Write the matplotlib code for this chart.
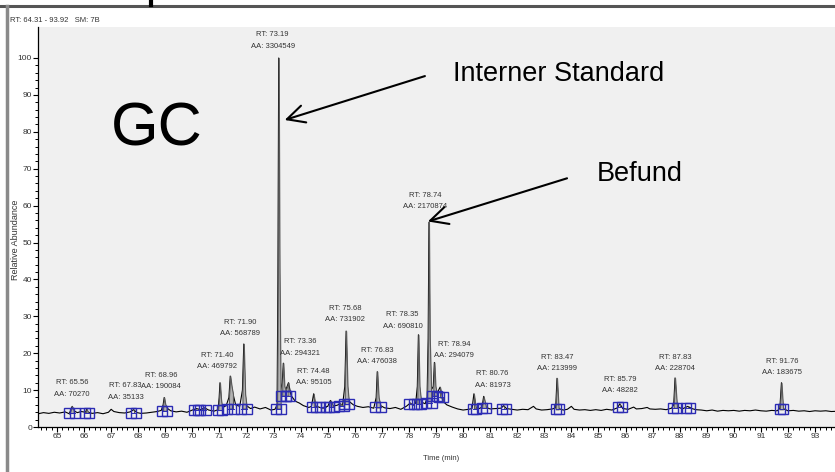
import matplotlib
matplotlib.use('Agg')
import matplotlib.pyplot as plt
from matplotlib.lines import Line2D
import numpy as np

# Chromatogramm (Zeit in min, relative Abundanz)
rt_min = [64.31, 64.5, 64.7, 64.9, 65.1, 65.3, 65.45, 65.52, 65.56, 65.62, 65.75, 65.9,
          66.05, 66.1, 66.15, 66.3, 66.5, 66.7, 66.9, 67.0, 67.1, 67.3, 67.5, 67.7,
          67.83, 67.95, 68.1, 68.3, 68.5, 68.7, 68.85, 68.92, 68.96, 69.0, 69.05, 69.2, 69.4, 69.6,
          69.8, 70.0, 70.15, 70.3, 70.45, 70.6, 70.8, 70.95, 70.99, 71.02, 71.06, 71.1, 71.25,
          71.35, 71.4, 71.45, 71.5, 71.6, 71.75, 71.85, 71.9, 71.95, 72.0, 72.15, 72.3, 72.5,
          72.7, 72.9, 73.05, 73.13, 73.16, 73.19, 73.22, 73.26, 73.32, 73.36, 73.4, 73.45,
          73.55, 73.65, 73.8, 73.95, 74.1, 74.3, 74.4, 74.48, 74.55, 74.75, 74.9, 75.0,
          75.1, 75.2, 75.35, 75.45, 75.55, 75.63, 75.68, 75.73, 75.78, 75.95,
          76.1, 76.3, 76.5, 76.7, 76.79, 76.83, 76.88, 76.95, 77.1, 77.3, 77.5, 77.7, 77.9, 78.05,
          78.15, 78.25, 78.31, 78.35, 78.39, 78.45, 78.6, 78.67, 78.71, 78.74, 78.77, 78.82,
          78.9, 78.94, 78.98, 79.03, 79.15, 79.25,
          79.4, 79.6, 79.8, 80.0, 80.2, 80.33, 80.4, 80.47, 80.6, 80.7, 80.76, 80.85,
          81.0, 81.2, 81.4, 81.5, 81.6, 81.8, 82.0, 82.2, 82.4, 82.6, 82.7, 82.9,
          83.1, 83.3, 83.42, 83.47, 83.53, 83.7, 83.85, 84.0, 84.1, 84.3, 84.5, 84.7,
          84.9, 85.1, 85.3, 85.5, 85.7, 85.79, 85.9, 86.1, 86.3, 86.4, 86.6, 86.8,
          86.9, 87.1, 87.3, 87.5, 87.7, 87.78, 87.83, 87.9, 88.1, 88.3, 88.45, 88.6,
          88.8, 89.0, 89.2, 89.4, 89.6, 89.8, 90.0, 90.2, 90.4, 90.6, 90.8, 91.0,
          91.2, 91.4, 91.6, 91.7, 91.76, 91.82, 92.0, 92.2, 92.4, 92.6, 92.8, 93.0,
          93.2, 93.4, 93.6, 93.92]
abundance = [3.6, 3.9, 3.7, 4.0, 3.8, 4.1, 3.6, 4.8, 5.6, 4.4, 3.9, 4.2,
             4.0, 4.8, 4.0, 3.7, 3.9, 3.6, 4.0, 4.8, 4.2, 3.9, 3.8, 4.1,
             4.7, 3.9, 3.7, 3.8, 4.0, 4.2, 4.5, 6.0, 8.0, 6.2, 5.2, 4.4, 4.1, 4.3,
             4.0, 4.6, 5.0, 4.7, 5.2, 4.6, 4.3, 4.7, 8.0, 12.0, 7.5, 5.2, 5.8,
             8.0, 13.8, 11.0, 9.0, 6.0, 5.6, 10.0, 22.5, 9.0, 5.8, 5.0, 5.4, 4.9,
             5.3, 4.6, 4.8, 6.0, 40.0, 100.0, 42.0, 10.0, 12.0, 17.3, 11.0, 10.0,
             12.0, 8.5, 7.0, 6.5, 5.8, 5.3, 5.6, 9.0, 5.7, 5.2, 5.4, 5.6,
             7.2, 5.7, 5.9, 6.3, 6.0, 11.0, 26.0, 11.0, 7.0, 6.0,
             5.6, 5.3, 5.5, 5.1, 8.0, 15.0, 8.0, 5.8, 5.2, 5.0, 5.3, 4.8, 5.6, 6.5,
             6.0, 6.5, 11.0, 25.0, 11.0, 6.8, 6.3, 8.0, 24.0, 55.5, 24.0, 10.0,
             11.0, 17.5, 11.0, 9.0, 10.8, 7.0,
             6.0, 5.4, 4.9, 4.6, 4.8, 5.0, 9.0, 5.2, 5.0, 5.4, 8.3, 5.3,
             4.9, 5.0, 5.1, 5.8, 5.0, 4.8, 4.6, 4.8, 4.7, 5.6, 4.9, 4.6,
             4.7, 4.9, 5.2, 13.2, 5.0, 4.6, 4.8, 5.6, 4.8, 4.6, 4.7, 4.5,
             4.7, 4.5, 4.8, 4.6, 5.2, 6.3, 5.0, 4.8, 5.4, 4.9, 5.0, 5.3,
             4.9, 4.8, 4.9, 4.7, 5.1, 6.0, 13.3, 5.6, 4.9, 5.6, 5.0, 4.7,
             4.6, 4.4, 4.6, 4.3, 4.5, 4.4, 4.5, 4.3, 4.5, 4.4, 4.6, 4.4,
             4.3, 4.5, 4.4, 5.0, 12.0, 5.0, 4.4, 4.5, 4.3, 4.4, 4.2, 4.4,
             4.3, 4.4, 4.2, 4.3]

# beschriftete Peaks
peak_rt = [65.56, 67.83, 68.96, 71.40, 71.90, 73.19, 73.36, 74.48, 75.68, 76.83,
           78.35, 78.74, 78.94, 80.76, 83.47, 85.79, 87.83, 91.76]
peak_area = [70270, 35133, 190084, 469792, 568789, 3304549, 294321, 95105, 731902, 476038,
             690810, 2170874, 294079, 81973, 213999, 48282, 228704, 183675]
label_y = [10.5, 9.6, 12.5, 17.9, 26.9, 104.8, 21.5, 13.5, 30.6, 19.2,
           28.8, 61.3, 20.9, 12.9, 17.3, 11.4, 17.3, 16.2]
label_dx = [0, -8, -3, -13, -4, -6, 17, 0, -1, 0, -16, -4, 20, 9, 0, 0, 0, 1]

# integrierte Bereiche (Start, Ende, Basislinie)
int_start = [65.45, 66.02, 67.75, 68.86, 70.05, 70.3, 70.95, 71.28, 71.8, 73.08, 73.28, 73.45,
             74.42, 74.7, 75.05, 75.4, 75.6, 76.75, 78.0, 78.28, 78.62, 78.85, 79.1,
             80.35, 80.7, 81.45, 83.42, 85.72, 87.76, 88.25, 91.7]
int_end = [65.66, 66.18, 67.92, 69.08, 70.2, 70.5, 71.1, 71.55, 72.0, 73.28, 73.45, 73.62,
           74.58, 74.95, 75.25, 75.6, 75.8, 76.95, 78.2, 78.45, 78.85, 79.05, 79.25,
           80.48, 80.85, 81.58, 83.55, 85.86, 87.9, 88.4, 91.82]
int_base = [3.8, 3.9, 3.9, 4.4, 4.5, 4.6, 4.6, 5.0, 5.0, 5.0, 8.5, 8.5,
            5.5, 5.3, 5.5, 5.8, 6.2, 5.3, 6.2, 6.3, 6.5, 8.5, 8.0,
            5.0, 5.2, 5.0, 4.8, 5.4, 5.2, 5.2, 4.8]

small = ['Liberation Sans', 'DejaVu Sans']
big = ['Liberation Sans', 'DejaVu Sans']
blue = '#2c2cb4'

fig = plt.figure(figsize=(8.35, 4.72), dpi=100, facecolor='white')
ax = fig.add_axes([0.0459, 0.0953, 0.96, 0.8475])
ax.set_facecolor('#f0f0f0')

t = np.array(rt_min)
y = np.array(abundance)

ax.plot(t, y, color='black', lw=0.8, zorder=2)

# graue Flaechen der integrierten Peaks
for s, e, b in zip(int_start, int_end, int_base):
    mask = (t >= s) & (t <= e)
    ax.fill_between(t, y, b, where=mask, facecolor='#b2b2b2', edgecolor='#5a5a5a',
                    lw=0.8, zorder=3)

# Integrationsmarker
for s, e, b in zip(int_start, int_end, int_base):
    ax.plot([s, e], [b, b], color=blue, lw=0.7, zorder=4)
ax.plot(int_start, int_base, 's', mfc='none', mec=blue, ms=6.5, mew=1.0, zorder=4)
ax.plot(int_end, int_base, 's', mfc='none', mec=blue, ms=6.5, mew=1.0, zorder=4)

for rt, area, ly, dx in zip(peak_rt, peak_area, label_y, label_dx):
    ax.annotate(f"RT: {rt:.2f}\nAA: {area}", xy=(rt, ly), xytext=(dx, 0),
                textcoords='offset pixels', ha='center', va='center',
                fontsize=5.5, linespacing=1.9, color='#333333', family=small,
                annotation_clip=False)

ax.set_xlim(64.31, 93.92)
ax.set_ylim(0, 108.4)
ax.set_xticks(range(65, 94))
ax.set_xticks(np.arange(64.4, 93.92, 0.2), minor=True)
ax.set_yticks(range(0, 101, 10))
ax.set_yticks(range(0, 101, 2), minor=True)
ax.tick_params(which='major', direction='out', length=3.5, width=0.8, pad=1,
               labelsize=6, labelcolor='#333333')
ax.tick_params(which='minor', direction='out', length=2.2, width=0.7)
for lab in ax.get_xticklabels() + ax.get_yticklabels():
    lab.set_family(small)
for side in ['top', 'right']:
    ax.spines[side].set_visible(False)
for side in ['left', 'bottom']:
    ax.spines[side].set_linewidth(0.9)

fig.text(441 / 835, 1 - 458 / 472, 'Time (min)', ha='center', va='center',
         fontsize=5.5, color='#333333', family=small)
fig.text(16 / 835, 1 - 240 / 472, 'Relative Abundance', rotation=90, ha='center',
         va='center', fontsize=6.5, color='#333333', family=small)
fig.text(10 / 835, 1 - 20 / 472, 'RT: 64.31 - 93.92   SM: 7B', ha='left', va='center',
         fontsize=5.5, color='#333333', family=small)

# Rahmen des Screenshots
fig.add_artist(Line2D([0, 1], [1 - 5.5 / 472] * 2, color='#555555', lw=2.2))
fig.add_artist(Line2D([6.5 / 835] * 2, [0, 1 - 6 / 472], color='#8a8a8a', lw=2.5))
fig.add_artist(Line2D([151 / 835] * 2, [1, 1 - 5 / 472], color='black', lw=3))

# Beschriftungen
ax.text(68.69, 80.6, 'GC', ha='center', va='center', fontsize=44, family=big)
ax.text(79.63, 95.7, 'Interner Standard', ha='left', va='center', fontsize=19.5, family=big)
ax.text(84.95, 68.6, 'Befund', ha='left', va='center', fontsize=19.5, family=big)
arrow = dict(arrowstyle='->,head_length=0.9,head_width=0.45', lw=1.5, color='black',
             mutation_scale=14, shrinkA=0, shrinkB=0)
ax.annotate('', xy=(73.41, 83.2), xytext=(78.59, 95.1), arrowprops=arrow)
ax.annotate('', xy=(78.70, 55.7), xytext=(83.84, 67.4), arrowprops=arrow)

fig.savefig('out.png', dpi=100)
